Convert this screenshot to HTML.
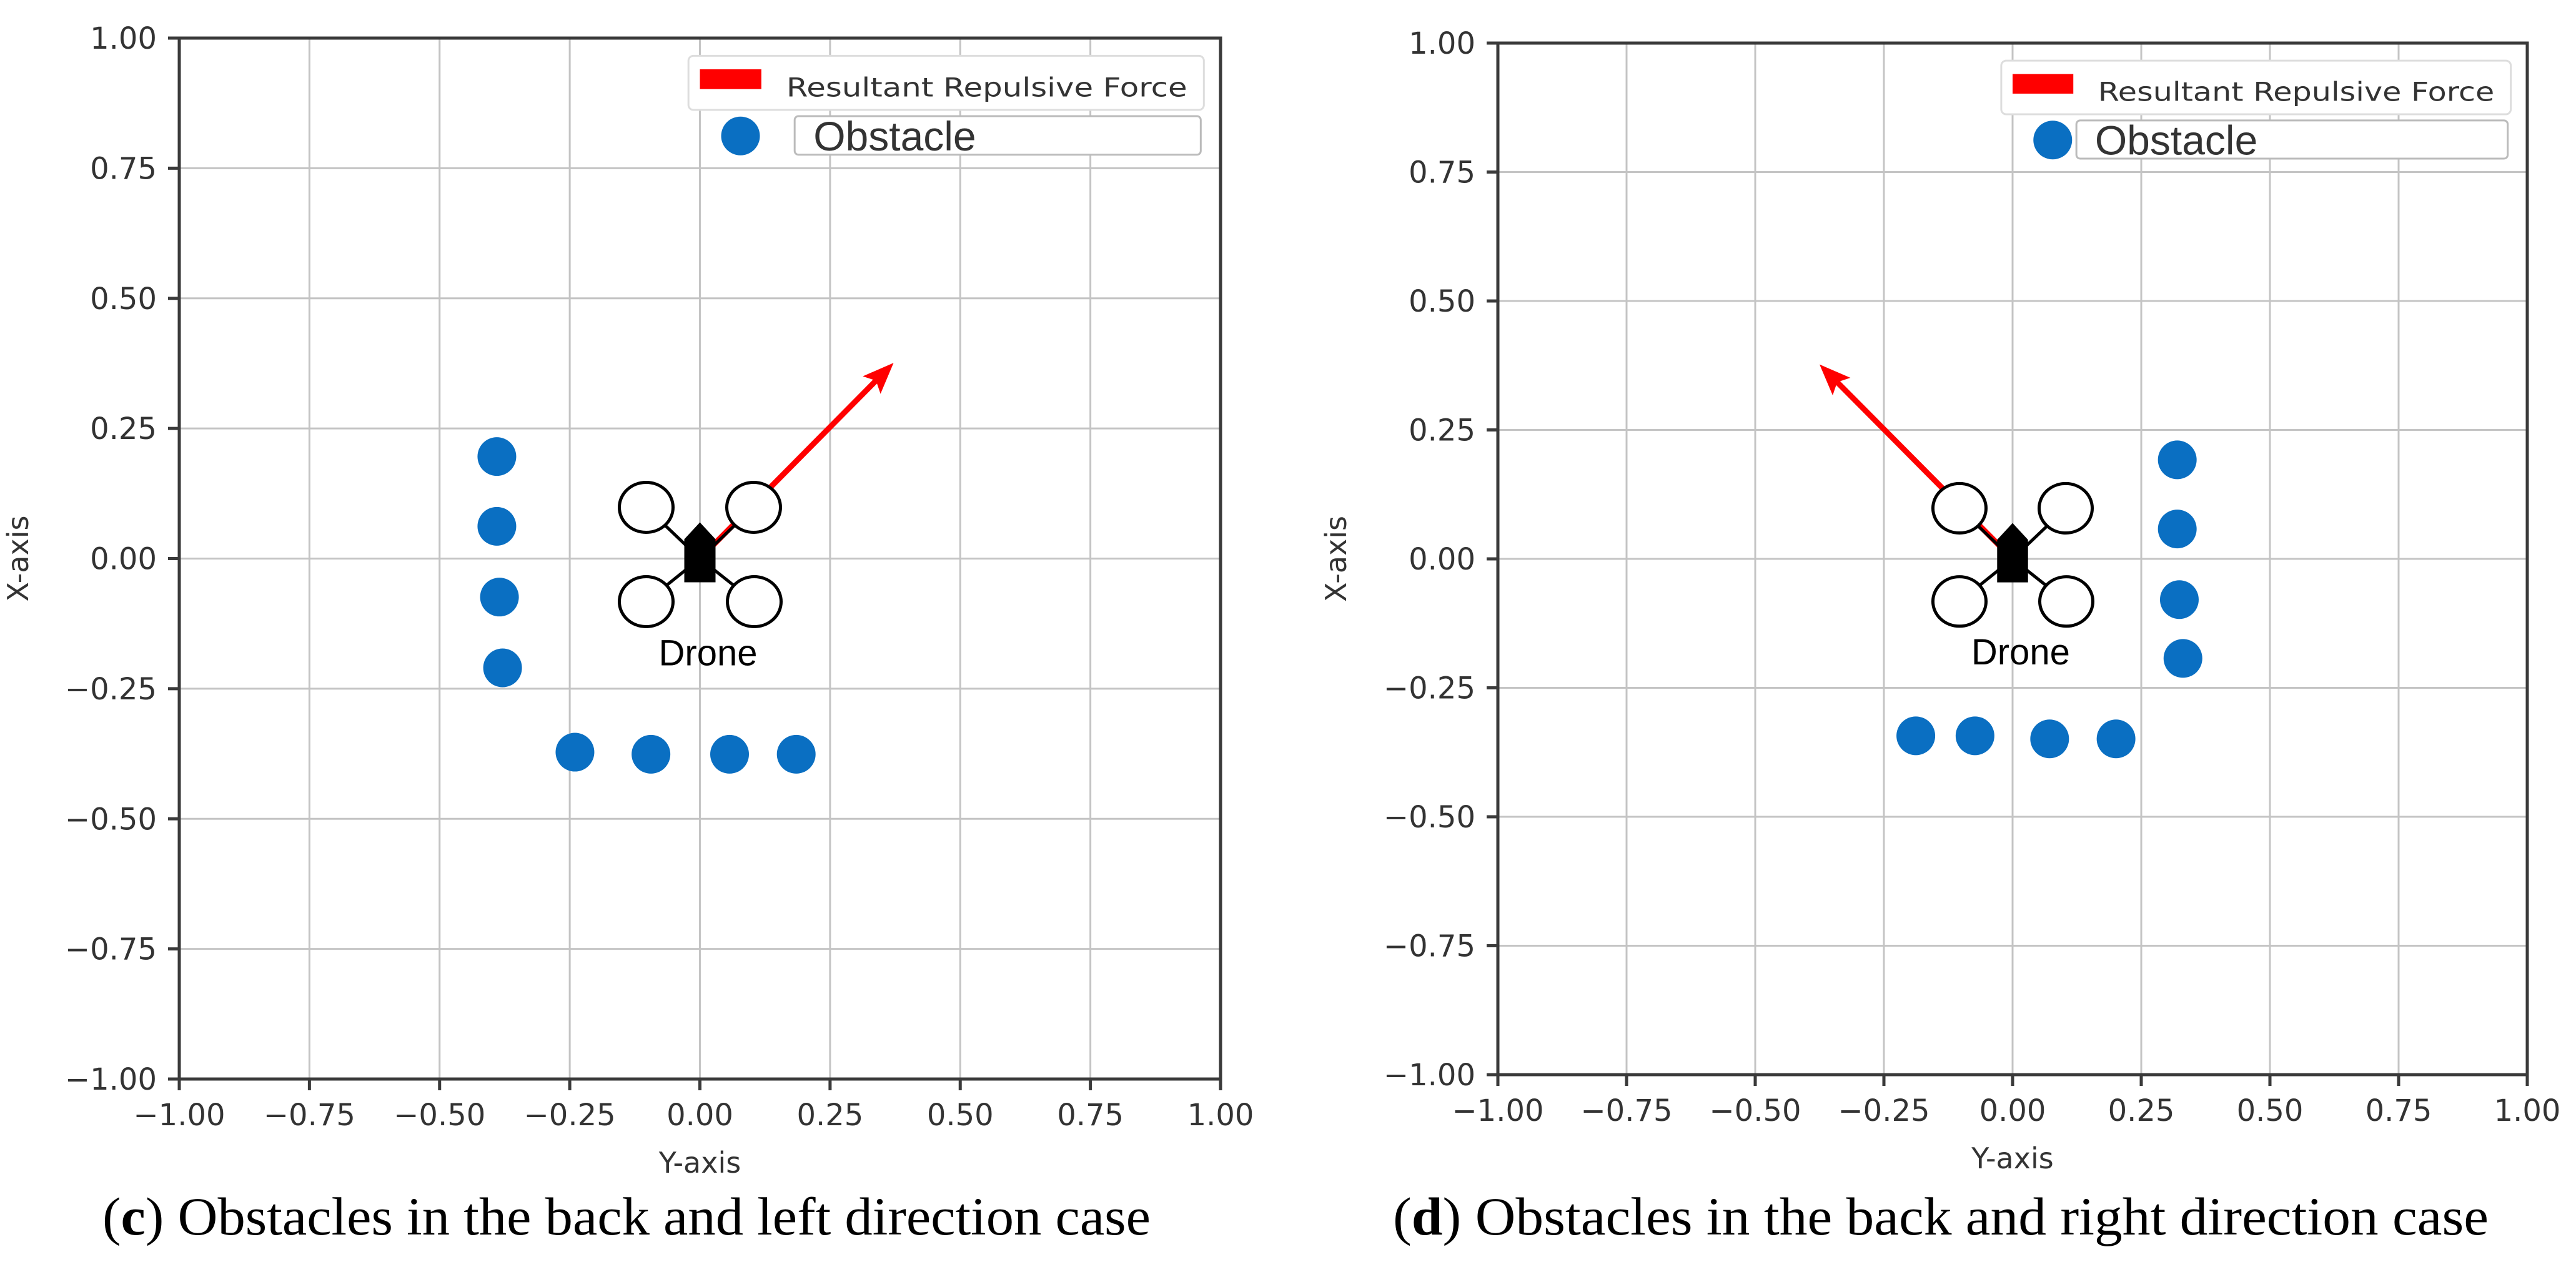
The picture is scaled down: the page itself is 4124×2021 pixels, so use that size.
<!DOCTYPE html>
<html><head><meta charset="utf-8"><style>
html,body{margin:0;padding:0;background:#fff;}
svg{display:block;}
</style></head><body>
<svg id="fig" width="4124" height="2021" viewBox="0 0 4124 2021" xmlns="http://www.w3.org/2000/svg">
<rect width="4124" height="2021" fill="#fff"/>
</svg>
<script>
const ticks = [-1.00,-0.75,-0.50,-0.25,0.00,0.25,0.50,0.75,1.00];
const tickLabels = ["\u22121.00","\u22120.75","\u22120.50","\u22120.25","0.00","0.25","0.50","0.75","1.00"];
// panel c obstacles (Y-axis value, X-axis value)
const obsCY = [-0.390,-0.390,-0.385,-0.379,-0.240,-0.094,0.057,0.185];
const obsCX = [0.196,0.062,-0.074,-0.210,-0.372,-0.376,-0.376,-0.376];
const forceC = [0.372,0.376];
// panel d obstacles
const obsDY = [0.320,0.320,0.324,0.331,-0.188,-0.073,0.072,0.201];
const obsDX = [0.192,0.058,-0.079,-0.193,-0.343,-0.343,-0.349,-0.349];
const forceD = [-0.375,0.377];

const NS="http://www.w3.org/2000/svg";
const svg=document.getElementById('fig');
function mk(tag,attrs,parent){const e=document.createElementNS(NS,tag);for(const k in attrs)e.setAttribute(k,attrs[k]);(parent||svg).appendChild(e);return e;}

function panel(id,L,T,R,B,ys,xs,force,caption,capBold,capX,capW,xLabelX,box2x){
  const g=mk('g',{});
  
  
  const sx=v=>L+(v+1)/2*(R-L);
  const sy=v=>B-(v+1)/2*(B-T);
  const k=(R-L)/2/833.5;
  ticks.forEach((t,i)=>{
    const vl=mk('line',{x1:sx(t),x2:sx(t),y1:T,y2:B,stroke:'#c4c4c4','stroke-width':3},g);
    
    
    const hl=mk('line',{x1:L,x2:R,y1:sy(t),y2:sy(t),stroke:'#c4c4c4','stroke-width':3},g);
    
    
  });
  const sp=mk('rect',{x:L,y:T,width:R-L,height:B-T,fill:'none',stroke:'#3a3a3a','stroke-width':5},g);
  
  
  ticks.forEach((t,i)=>{
    mk('line',{x1:sx(t),x2:sx(t),y1:B,y2:B+18,stroke:'#3a3a3a','stroke-width':5},g);
    mk('line',{x1:L-18,x2:L,y1:sy(t),y2:sy(t),stroke:'#3a3a3a','stroke-width':5},g);
    const xt=mk('text',{x:sx(t),y:B+74,'text-anchor':'middle','font-family':'DejaVu Sans, sans-serif','font-size':48,fill:'#333'},g);
    xt.textContent=tickLabels[i];
    
    
    const yt=mk('text',{x:L-36,y:sy(t)+17,'text-anchor':'end','font-family':'DejaVu Sans, sans-serif','font-size':48,fill:'#333'},g);
    yt.textContent=tickLabels[i];
    
    
  });
  const xl=mk('text',{x:(L+R)/2,y:B+150,'text-anchor':'middle','font-family':'DejaVu Sans, sans-serif','font-size':46,fill:'#333'},g);
  xl.textContent='Y-axis';
  
  
  const yl=mk('text',{x:0,y:0,'text-anchor':'middle','font-family':'DejaVu Sans, sans-serif','font-size':46,fill:'#333',transform:`translate(${xLabelX},${(T+B)/2}) rotate(-90)`},g);
  yl.textContent='X-axis';
  
  
  ys.forEach((v,i)=>{
    const c=mk('circle',{cx:sx(v),cy:sy(xs[i]),r:31,fill:'#0a6fc2'},g);
    
    
  });
  const cx=sx(0),cy=sy(0);
  const tx=sx(force[0]),ty=sy(force[1]);
  const ang=Math.atan2(ty-cy,tx-cx);
  const hl=50, hw=20;
  const bx=tx-hl*Math.cos(ang), by=ty-hl*Math.sin(ang);
  const ar=mk('g',{},g);
  
  
  mk('line',{x1:cx,y1:cy,x2:bx+10*Math.cos(ang),y2:by+10*Math.sin(ang),stroke:'#f00','stroke-width':9},ar);
  mk('polygon',{points:`${tx},${ty} ${bx-hw*Math.sin(ang)},${by+hw*Math.cos(ang)} ${bx+10*Math.cos(ang)},${by+10*Math.sin(ang)} ${bx+hw*Math.sin(ang)},${by-hw*Math.cos(ang)}`,fill:'#f00'},ar);
  const dr=mk('g',{},g);
  
  
  const rot=[[-86,-82],[86,-82],[-86,69],[87,69]];
  rot.forEach(p=>{
    mk('line',{x1:cx,y1:cy,x2:cx+p[0]*k*0.72,y2:cy+p[1]*k*0.72,stroke:'#000','stroke-width':5},dr);
  });
  rot.forEach(p=>{
    mk('ellipse',{cx:cx+p[0]*k,cy:cy+p[1]*k,rx:43*k,ry:40*k,fill:'#fff',stroke:'#000','stroke-width':5},dr);
  });
  mk('polygon',{points:`${cx-25*k},${cy-31*k} ${cx},${cy-58*k} ${cx+25*k},${cy-31*k} ${cx+25*k},${cy+38*k} ${cx-25*k},${cy+38*k}`,fill:'#000'},dr);
  const dt=mk('text',{x:cx+13*k,y:cy+171*k,'text-anchor':'middle','font-family':'Liberation Sans, sans-serif','font-size':58,fill:'#000'},g);
  dt.textContent='Drone';
  
  
  const W=R-L,H=B-T;
  const lg=mk('g',{},g);
  
  
  mk('rect',{x:L+0.489*W,y:T+0.017*H,width:0.495*W,height:0.052*H,rx:8,fill:'#fff',stroke:'#ddd','stroke-width':3},lg);
  const rp=mk('rect',{x:L+0.500*W,y:T+0.030*H,width:0.059*W,height:0.019*H,fill:'#f00'},lg);
  
  
  const t1=mk('text',{x:L+0.583*W,y:T+0.056*H,'font-family':'DejaVu Sans, sans-serif','font-size':42,fill:'#333',textLength:0.385*W,lengthAdjust:'spacingAndGlyphs'},lg);
  t1.textContent='Resultant Repulsive Force';
  
  
  mk('rect',{x:L+box2x*W,y:T+0.075*H,width:(0.981-box2x)*W,height:0.037*H,rx:6,fill:'#fff',stroke:'#bbb','stroke-width':3},lg);
  const lm=mk('circle',{cx:L+0.539*W,cy:T+0.094*H,r:31,fill:'#0a6fc2'},lg);
  
  
  const t2=mk('text',{x:L+(box2x+0.018)*W,y:T+0.108*H,'font-family':'Liberation Sans, sans-serif','font-size':66,fill:'#333'},lg);
  t2.textContent='Obstacle';
  
  
  const cp=mk('text',{x:capX,y:1977,'font-family':'Liberation Serif, serif','font-size':86,fill:'#000',textLength:capW,lengthAdjust:'spacingAndGlyphs'},g);
  
  
  const b=document.createElementNS(NS,'tspan');b.setAttribute('font-weight','bold');b.textContent=capBold;
  cp.appendChild(document.createTextNode('('));cp.appendChild(b);cp.appendChild(document.createTextNode(') '+caption));
}
panel('c',287,61,1954,1728,obsCY,obsCX,forceC,'Obstacles in the back and left direction case','c',164,1678,45,0.591);
panel('d',2398,69,4046,1721,obsDY,obsDX,forceD,'Obstacles in the back and right direction case','d',2230,1754,2155,0.562);
</script>
</body></html>
